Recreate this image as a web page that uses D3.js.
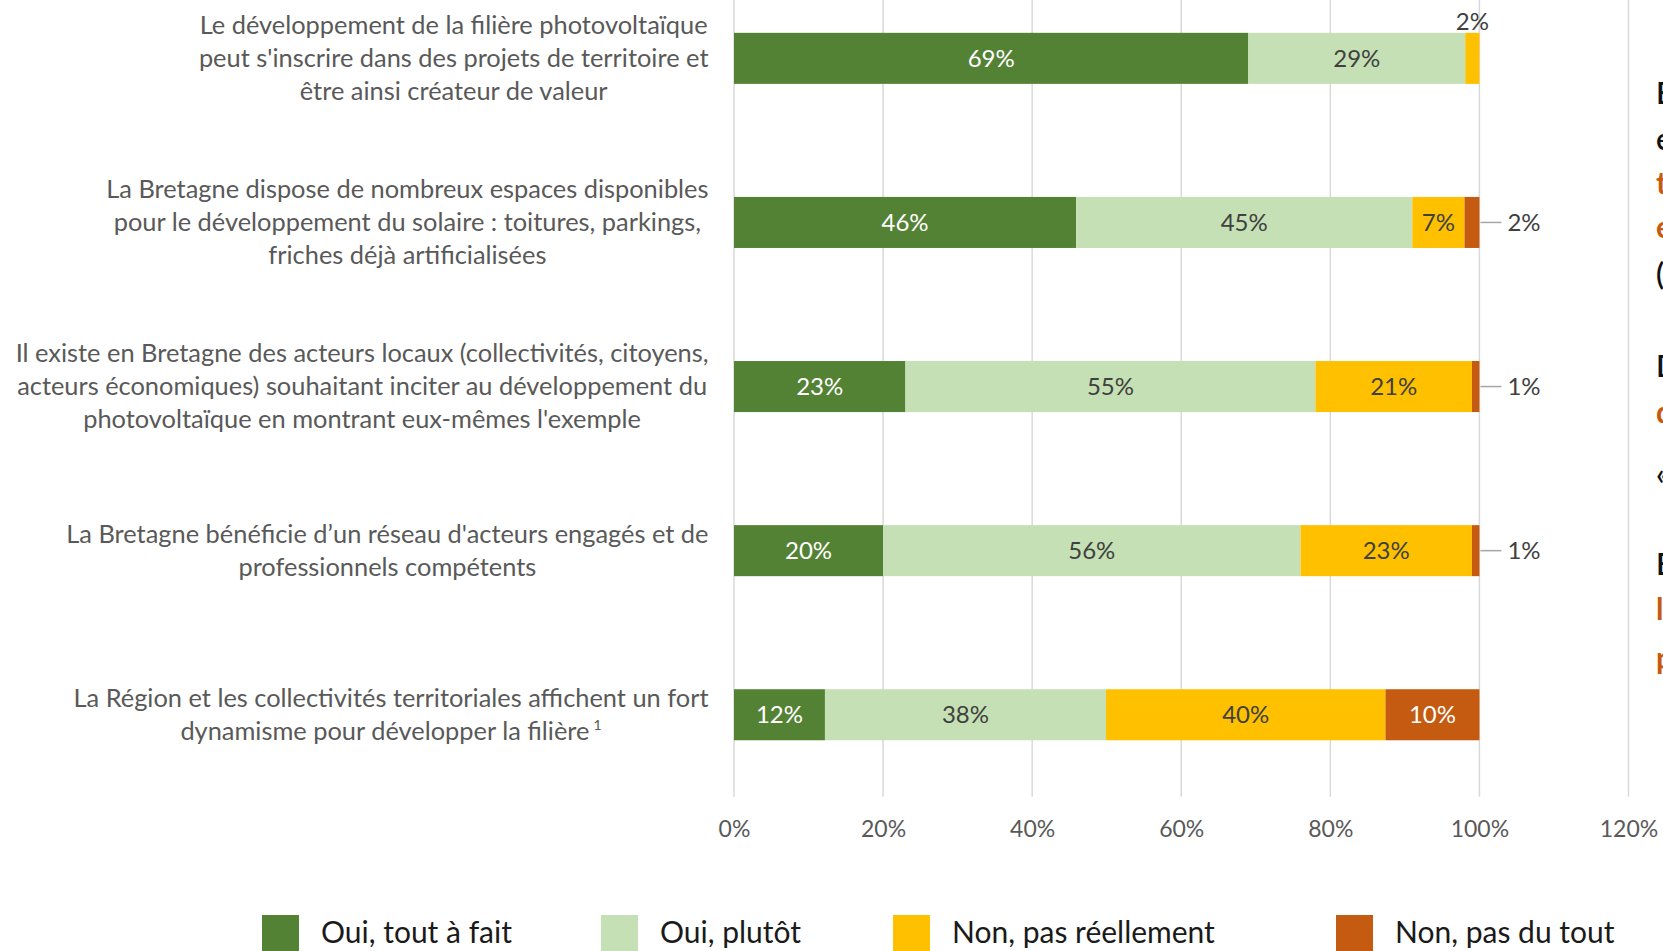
<!DOCTYPE html>
<html>
<head>
<meta charset="utf-8">
<script src="https://cdn.jsdelivr.net/npm/d3@7"></script>
<style>
  html, body { margin: 0; padding: 0; background: #fff; overflow: hidden; }
  svg { display: block; font-family: Lato, "Open Sans", sans-serif; }
</style>
</head>
<body>
<div id="chart"></div>
<script>
// categories, one entry per bar, split in the lines shown
const categories = [
  ["Le développement de la filière photovoltaïque", "peut s'inscrire dans des projets de territoire et", "être ainsi créateur de valeur"],
  ["La Bretagne dispose de nombreux espaces disponibles", "pour le développement du solaire : toitures, parkings,", "friches déjà artificialisées"],
  ["Il existe en Bretagne des acteurs locaux (collectivités, citoyens,", "acteurs économiques) souhaitant inciter au développement du", "photovoltaïque en montrant eux-mêmes l'exemple"],
  ["La Bretagne bénéficie d\u2019un réseau d'acteurs engagés et de", "professionnels compétents"],
  ["La Région et les collectivités territoriales affichent un fort", "dynamisme pour développer la filière"]
];
const footnote = "1";

const seriesNames = ["Oui, tout à fait", "Oui, plutôt", "Non, pas réellement", "Non, pas du tout"];

// bar lengths (%)
const toutAFait     = [69, 45.9, 23, 20, 12.2];
const plutot        = [29.1, 45.1, 55, 56, 37.7];
const pasReellement = [1.9, 7, 21, 23, 37.5];
const pasDuTout     = [0, 2, 1, 1, 12.6];

// data labels as printed on the chart
const labelsToutAFait     = ["69%", "46%", "23%", "20%", "12%"];
const labelsPlutot        = ["29%", "45%", "55%", "56%", "38%"];
const labelsPasReellement = ["2%", "7%", "21%", "23%", "40%"];
const labelsPasDuTout     = ["", "2%", "1%", "1%", "10%"];

const xTicks = [0, 20, 40, 60, 80, 100, 120];

// cut-off text box on the right edge
const sideLetters = ["E", "e", "t", "e", "(", "D", "d", "\u00ab", "E", "l", "p"];
const sideHighlight = [false, false, true, true, false, false, true, false, false, true, true];
const sideLineY = [93, 139, 183, 227, 274, 366, 412, 474, 564, 609, 658];

const colors = ["#548235", "#C5E0B4", "#FFC000", "#C55A11"];
const labelColors = ["#ffffff", "#404040", "#404040", "#ffffff"];

const seriesValues = [toutAFait, plutot, pasReellement, pasDuTout];
const seriesLabels = [labelsToutAFait, labelsPlutot, labelsPasReellement, labelsPasDuTout];

const W = 1663, H = 951;

const svg = d3.select("#chart").append("svg")
  .attr("width", W)
  .attr("height", H);

const x = d3.scaleLinear().domain([0, 120]).range([734, 1628.5]);
const y = d3.scaleBand()
  .domain(d3.range(categories.length))
  .range([-23.7, 796.8])
  .paddingInner(0.689)
  .paddingOuter(0.689 / 2);

// gridlines
svg.append("g")
  .selectAll("line")
  .data(xTicks)
  .join("line")
  .attr("x1", d => x(d)).attr("x2", d => x(d))
  .attr("y1", y.range()[0]).attr("y2", y.range()[1])
  .attr("stroke", "#d9d9d9")
  .attr("stroke-width", 1.5);

// x axis labels
const xAxis = svg.append("g")
  .attr("transform", "translate(0,821)")
  .call(d3.axisBottom(x).tickValues(xTicks).tickFormat(d => d + "%").tickSize(0).tickPadding(0));
xAxis.select(".domain").remove();
xAxis.selectAll("text")
  .attr("dy", "0.71em")
  .attr("font-size", 23)
  .attr("font-family", "Lato, sans-serif")
  .attr("fill", "#595959");

// stacked rows
const rows = categories.map((c, i) => {
  let acc = 0;
  return seriesValues.map((vals, s) => {
    const seg = { row: i, s, x0: acc, x1: acc + vals[i], v: vals[i], label: seriesLabels[s][i] };
    acc += vals[i];
    return seg;
  });
});
const segs = rows.flat().filter(d => d.v > 0);

svg.append("g")
  .selectAll("rect")
  .data(segs)
  .join("rect")
  .attr("x", d => x(d.x0))
  .attr("y", d => y(d.row))
  .attr("width", d => x(d.x1) - x(d.x0))
  .attr("height", y.bandwidth())
  .attr("fill", d => colors[d.s]);

// data labels
const lab = svg.append("g").attr("font-size", 24);

const inside = segs.filter(d => d.v >= 3);
lab.selectAll("text.in")
  .data(inside)
  .join("text")
  .attr("class", "in")
  .attr("x", d => (x(d.x0) + x(d.x1)) / 2)
  .attr("y", d => y(d.row) + y.bandwidth() / 2)
  .attr("dy", "0.35em")
  .attr("text-anchor", "middle")
  .attr("fill", d => labelColors[d.s])
  .text(d => d.label);

// small last segment: label to the right with a leader line
const rightOnes = segs.filter(d => d.v < 3 && d.s === 3);
lab.selectAll("line.lead")
  .data(rightOnes)
  .join("line")
  .attr("class", "lead")
  .attr("x1", d => x(d.x1) + 1)
  .attr("x2", d => x(d.x1) + 22)
  .attr("y1", d => y(d.row) + y.bandwidth() / 2)
  .attr("y2", d => y(d.row) + y.bandwidth() / 2)
  .attr("stroke", "#a6a6a6")
  .attr("stroke-width", 1.5);
lab.selectAll("text.out")
  .data(rightOnes)
  .join("text")
  .attr("class", "out")
  .attr("x", d => x(d.x1) + 28)
  .attr("y", d => y(d.row) + y.bandwidth() / 2)
  .attr("dy", "0.35em")
  .attr("fill", "#404040")
  .text(d => d.label);

// small segment not at the end: label above the bar
const aboveOnes = segs.filter(d => d.v < 3 && d.s !== 3);
lab.selectAll("text.above")
  .data(aboveOnes)
  .join("text")
  .attr("class", "above")
  .attr("x", d => (x(d.x0) + x(d.x1)) / 2)
  .attr("y", d => y(d.row) - 3)
  .attr("text-anchor", "middle")
  .attr("fill", "#404040")
  .text(d => d.label);

// category labels, centred lines, block right-aligned on the axis
const catRight = 708.5;
const lineH = 33;
const cat = svg.append("g")
  .attr("font-size", 25.4)
  .attr("fill", "#595959");
categories.forEach((lines, i) => {
  const cy = y(i) + y.bandwidth() / 2;
  const g = cat.append("g");
  const texts = lines.map((ln, k) => {
    const t = g.append("text")
      .attr("y", cy + (k - (lines.length - 1) / 2) * lineH)
      .attr("dy", "0.35em")
      .attr("text-anchor", "middle")
      .text(ln);
    if (i === categories.length - 1 && k === lines.length - 1) {
      t.append("tspan")
        .attr("font-size", 14)
        .attr("dx", 4)
        .attr("dy", -10)
        .text(footnote);
    }
    return t;
  });
  const maxW = d3.max(texts, t => t.node().getComputedTextLength());
  texts.forEach(t => t.attr("x", catRight - maxW / 2));
});

// legend
const legendX = [262, 601, 893, 1336];
const leg = svg.append("g").attr("font-size", 30).attr("fill", "#1a1a1a");
seriesNames.forEach((name, s) => {
  leg.append("rect")
    .attr("x", legendX[s]).attr("y", 915)
    .attr("width", 37).attr("height", 36)
    .attr("fill", colors[s]);
  leg.append("text")
    .attr("x", legendX[s] + 59)
    .attr("y", 943)
    .text(name);
});

// right-hand text box, cut by the page edge
svg.append("g")
  .attr("font-size", 30)
  .selectAll("text")
  .data(sideLetters)
  .join("text")
  .attr("x", 1656)
  .attr("y", (d, i) => sideLineY[i])
  .attr("dy", "0.35em")
  .attr("font-weight", (d, i) => sideHighlight[i] ? 700 : 600)
  .attr("fill", (d, i) => sideHighlight[i] ? "#C55A11" : "#111111")
  .text(d => d);
</script>
</body>
</html>
